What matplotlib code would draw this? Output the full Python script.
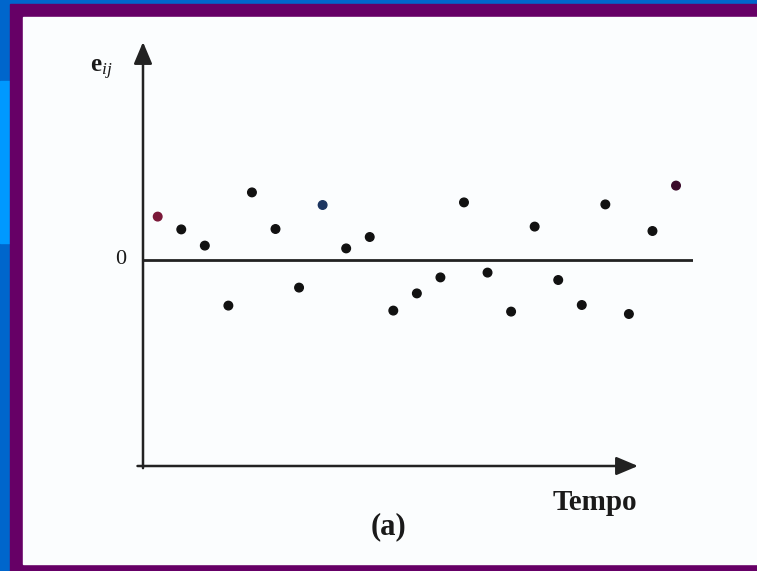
import numpy as np
import matplotlib.pyplot as plt
from matplotlib.patches import Rectangle

# residuos e_ij ao longo do tempo
tempo = np.arange(1, 24)
residuos = [2.17, 1.53, 0.72, -2.28, 3.38, 1.55, -1.38, 2.75, 0.58, 1.15, -2.53, -1.67,
            -0.87, 2.88, -0.63, -2.58, 1.67, -1.00, -2.25, 2.78, -2.70, 1.45, 3.72]
cores = ['#7a1838'] + ['#111111'] * 6 + ['#1c3560'] + ['#111111'] * 14 + ['#3a0a2a']

W, H = 757, 571

def fx(x):
    return x / W

def fy(y):
    return 1 - y / H

plt.rcParams['font.family'] = ['Liberation Serif', 'DejaVu Serif']
plt.rcParams['mathtext.fontset'] = 'custom'
plt.rcParams['mathtext.rm'] = 'Liberation Serif'
plt.rcParams['mathtext.it'] = 'Liberation Serif:italic'
plt.rcParams['mathtext.bf'] = 'Liberation Serif:bold'

fig = plt.figure(figsize=(W / 100, H / 100), dpi=100)
fig.patch.set_facecolor('#0066cc')

# moldura do slide (atras dos eixos)
fig.patches.append(Rectangle((0, fy(243)), fx(10), (243 - 81) / H, transform=fig.transFigure,
                             color='#0099ff', zorder=-3))
fig.patches.append(Rectangle((fx(10), 0), 1 - fx(10), fy(4), transform=fig.transFigure,
                             color='#660066', zorder=-3))
fig.patches.append(Rectangle((fx(23), fy(564)), 1 - fx(23), (564 - 17) / H,
                             transform=fig.transFigure, color='#fbfdfe', zorder=-2))

ax = fig.add_axes([fx(143), fy(466), (693 - 143) / W, (466 - 42) / H])
ax.patch.set_visible(False)
for s in ax.spines.values():
    s.set_visible(False)
ax.set_xticks([])
ax.set_yticks([])

ax.set_xlim(1 + (143 - 157.7) / 23.56, 1 + (693 - 157.7) / 23.56)
ax.set_ylim((260 - 466) / 20, (260 - 42) / 20)

ax.axhline(0, color='#222222', lw=2.0)
ax.scatter(tempo, residuos, s=38, c=cores, zorder=3)

seta = dict(arrowstyle='-|>,head_length=0.95,head_width=0.4', color='#222222',
            lw=1.8, mutation_scale=14, shrinkA=0, shrinkB=0)
ax.annotate('', xy=(0, 1), xytext=(0, -0.005), xycoords='axes fraction',
            arrowprops=seta, annotation_clip=False)
ax.annotate('', xy=(0.9, 0), xytext=(-0.01, 0), xycoords='axes fraction',
            arrowprops=seta, annotation_clip=False)

fig.text(fx(101), fy(70), r'$\mathbf{e}_{ij}$', fontsize=18, ha='center', va='center',
         color='#1a1a1a')
fig.text(fx(121), fy(259), '0', fontsize=16, ha='center', va='center', color='#1a1a1a')
fig.text(fx(595), fy(502), 'Tempo', fontsize=21, fontweight='bold', ha='center',
         va='center', color='#1a1a1a')
fig.text(fx(389), fy(527), '(a)', fontsize=22, fontweight='bold', ha='center',
         va='center', color='#1a1a1a')

fig.savefig('out.png', dpi=100, facecolor=fig.get_facecolor())
